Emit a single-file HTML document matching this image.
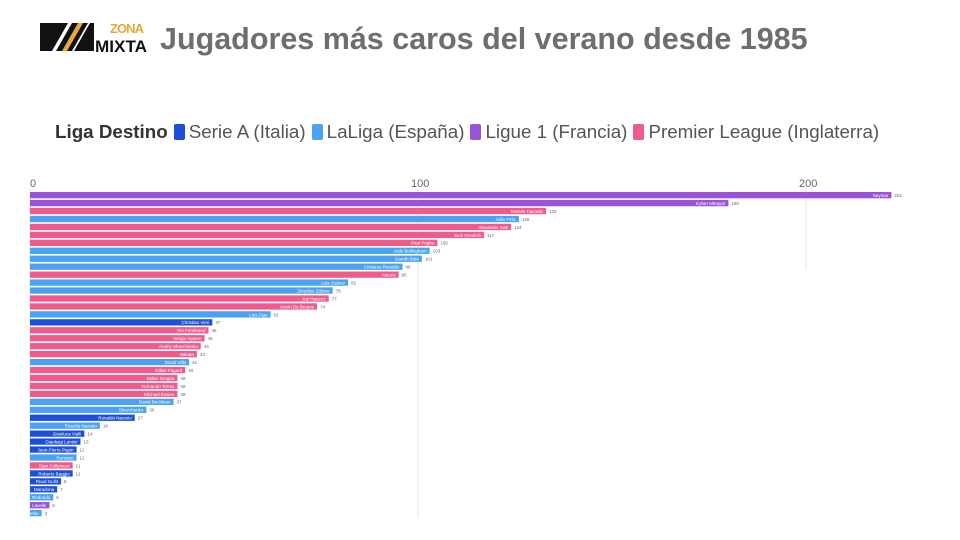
<!DOCTYPE html>
<html><head><meta charset="utf-8"><style>
body{margin:0;width:960px;height:540px;background:#fff;overflow:hidden;font-family:"Liberation Sans",sans-serif;position:relative}
#title{position:absolute;left:160px;top:22px;font-size:30.5px;font-weight:bold;color:#6e6e6e;white-space:nowrap}
#legend{position:absolute;left:55px;top:121px;font-size:18.8px;color:#555;white-space:nowrap}
#legend b{color:#333}
.sw{display:inline-block;width:11px;height:16px;border-radius:2px;vertical-align:-2px;margin:0 4px 0 6px}
</style></head><body>
<svg style="position:absolute;left:38px;top:20px" width="112" height="34">
<polygon points="2,3 30,3 14,31 2,31" fill="#111"/><polygon points="18,31 34,3 50,3 34,31" fill="#111"/>
<polygon points="24,31 40,3 45,3 29,31" fill="#e8a93a"/><polygon points="36,31 52,3 56,3 56,31" fill="#111"/>
<text x="72" y="13" font-size="13" font-weight="bold" fill="#e8a93a" font-family="Liberation Sans" textLength="34">ZONA</text>
<text x="57" y="32" font-size="17" font-weight="bold" fill="#111" font-family="Liberation Sans" textLength="52" lengthAdjust="spacingAndGlyphs">MIXTA</text>
</svg>
<div id="title">Jugadores más caros del verano desde 1985</div>
<div id="legend"><b>Liga Destino</b><span class="sw" style="background:#1d4fd8"></span>Serie A (Italia)<span class="sw" style="background:#4aa3f2"></span>LaLiga (España)<span class="sw" style="background:#9b52d6"></span>Ligue 1 (Francia)<span class="sw" style="background:#ee5b8c"></span>Premier League (Inglaterra)</div>
<svg id="chart" width="960" height="540" style="position:absolute;left:0;top:0"></svg>
<script>
const players=["Neymar","Kylian Mbappé","Moisés Caicedo","João Félix","Alexander Isak","Jack Grealish","Paul Pogba","Jude Bellingham","Gareth Bale","Cristiano Ronaldo","Antony","Luis Suárez","Zinedine Zidane","Kai Havertz","Kevin De Bruyne","Luis Figo","Christian Vieri","Rio Ferdinand","Sergio Agüero","Andriy Shevchenko","Nakata","David Villa","Gilles Pagard","Didier Drogba","Fernando Torres","Michael Essien","David Beckham","Shevchenko","Ronaldo Nazario","Ricardo Nazario","Gianluca Vialli","Gianluigi Lentini","Jean-Pierre Papin","Romario","Stan Collymore","Roberto Baggio","Ruud Gullit","Maradona","Redondo","Lavelle","Bebe"];
const values=[222,180,133,126,124,117,105,103,101,96,95,82,78,77,74,62,47,46,45,44,43,41,40,38,38,38,37,30,27,18,14,13,12,12,11,11,8,7,6,5,3];
const leagues=["L1","L1","PL","LL","PL","PL","PL","LL","LL","LL","PL","LL","LL","PL","PL","LL","SA","PL","PL","PL","PL","LL","PL","PL","PL","PL","LL","LL","SA","LL","SA","SA","SA","LL","PL","SA","SA","SA","LL","L1","LL"];
const ticks=[0,100,200];
const colors={SA:"#1d4fd8",LL:"#4aa3f2",L1:"#9b52d6",PL:"#ee5b8c"};
const NS="http://www.w3.org/2000/svg",svg=document.getElementById('chart');
const x=v=>30+v*3.88, y=i=>192+i*7.95;
function mk(t,a){const e=document.createElementNS(NS,t);for(const k in a)e.setAttribute(k,a[k]);svg.appendChild(e);return e;}
ticks.forEach(t=>{
 const g=mk('line',{x1:x(t),x2:x(t),y1:188,y2:t==200?270:518,stroke:"#e6e6e6","stroke-width":1});
 
 
 const l=mk('text',{x:x(t)+(t==0?0:-7),y:187,"font-size":11,fill:"#666","font-family":"Liberation Sans"});
 l.textContent=t;
 
 
});
values.forEach((v,i)=>{
 const r=mk('rect',{x:30,y:y(i),width:x(v)-30,height:6.3,fill:colors[leagues[i]]});
 
 
 const n=mk('text',{x:x(v)-3,y:y(i)+5,"font-size":4.5,fill:"#fff","text-anchor":"end","font-family":"Liberation Sans"});
 n.textContent=players[i];
 
 
 const vl=mk('text',{x:x(v)+3,y:y(i)+5,"font-size":4.5,fill:"#666","font-family":"Liberation Sans"});
 vl.textContent=v;
 
 
});
</script>
</body></html>
